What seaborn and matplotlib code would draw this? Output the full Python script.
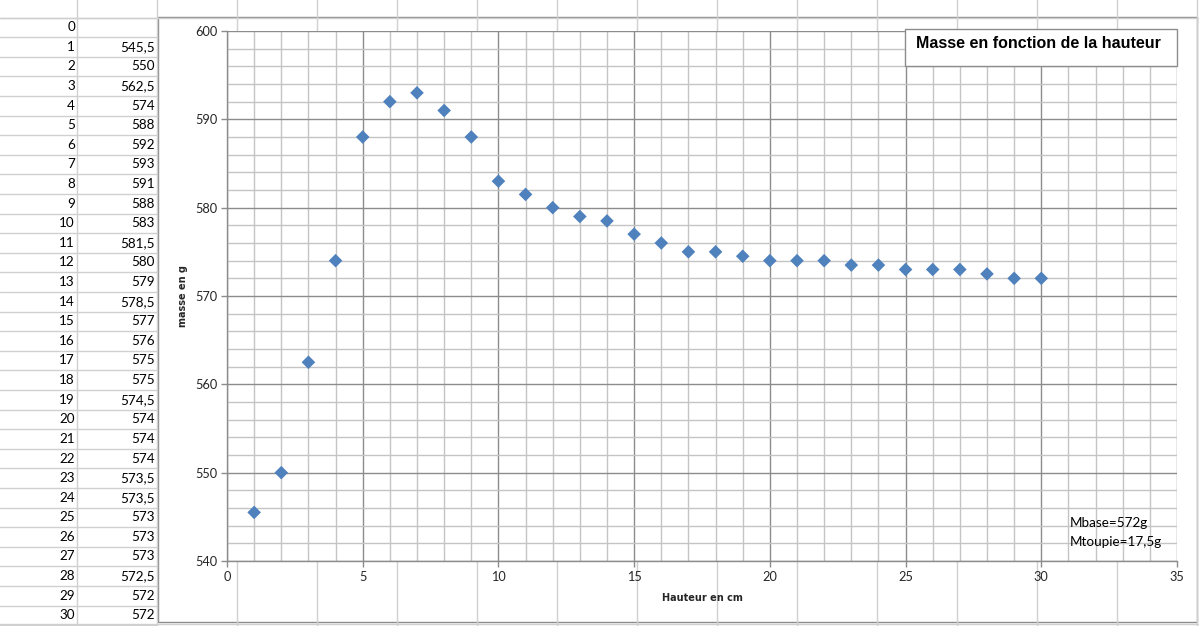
import matplotlib
matplotlib.use("Agg")
import matplotlib.pyplot as plt
from matplotlib.patches import Rectangle
import pandas as pd
import seaborn as sns

# data read from the sheet / chart
hauteur = list(range(1, 31))
masse = [545.5, 550, 562.5, 574, 588, 592, 593, 591, 588, 583,
         581.5, 580, 579, 578.5, 577, 576, 575, 575, 574.5, 574,
         574, 574, 573.5, 573.5, 573, 573, 573, 572.5, 572, 572]
x_ticks = [0, 5, 10, 15, 20, 25, 30, 35]
y_ticks = [540, 550, 560, 570, 580, 590, 600]
titre = "Masse en fonction de la hauteur"
notes = ["Mbase=572g", "Mtoupie=17,5g"]

W, H = 1199, 626
cell_font = "Lato"
grid_cell = "#D0D0D0"


def fx(px):
    return px / W


def fy(py):
    return 1 - py / H


def fmt(v):
    s = f"{v:g}"
    return s.replace(".", ",")


sns.set_theme(style="white")
plt.rcParams["font.family"] = [cell_font, "DejaVu Sans"]

fig = plt.figure(figsize=(W / 100, H / 100), dpi=100)

# spreadsheet background
bg = fig.add_axes([0, 0, 1, 1])
bg.set_xlim(0, W)
bg.set_ylim(H, 0)
bg.axis("off")

row0 = 17.5
row_h = 19.6
for k in range(32):
    y = row0 + k * row_h
    bg.plot([0, 157], [y, y], color=grid_cell, lw=1)
bg.plot([0, W], [row0, row0], color=grid_cell, lw=1)
bg.plot([0, W], [623.5, 623.5], color=grid_cell, lw=1)
for xc in range(77, W, 80):
    bg.plot([xc, xc], [0, H], color=grid_cell, lw=1)

labels_a = [0] + hauteur
for k, a in enumerate(labels_a):
    yc = row0 + row_h * (k + 0.5)
    bg.text(75, yc, str(a), ha="right", va="center", fontsize=9.7, color="black")
    if k > 0:
        bg.text(155, yc, fmt(masse[k - 1]), ha="right", va="center",
                fontsize=9.7, color="black")

# chart frame
bg.add_patch(Rectangle((158, 17), 1197 - 158, 622 - 17, facecolor="white",
                       edgecolor="#8C8C8C", lw=1))

# plot area
left, right, top, bottom = 227, 1177, 31, 561
ax = fig.add_axes([fx(left), fy(bottom), fx(right - left), (bottom - top) / H])
df = pd.DataFrame({"hauteur": hauteur, "masse": masse})
sns.scatterplot(data=df, x="hauteur", y="masse", ax=ax, marker="D", s=48,
                color="#4F81BD", edgecolor="none", zorder=3, legend=False)

ax.set_xlim(0, 35)
ax.set_ylim(540, 600)
ax.set_xticks(x_ticks)
ax.set_yticks(y_ticks)
ax.set_xticks(range(0, 36), minor=True)
ax.set_yticks(range(540, 601, 2), minor=True)
ax.grid(which="minor", color="#C4C4C4", lw=1)
ax.grid(which="major", color="#8C8C8C", lw=1)
ax.set_axisbelow(True)
ax.tick_params(which="major", direction="out", length=4, width=1,
               color="#8C8C8C", labelsize=9.2, pad=3, left=True, bottom=True)
ax.tick_params(which="minor", length=0)
for side in ["top", "right"]:
    ax.spines[side].set_visible(False)
for side in ["left", "bottom"]:
    ax.spines[side].set_color("#8C8C8C")
    ax.spines[side].set_linewidth(1)

ax.set_xlabel("Hauteur en cm", family="DejaVu Sans", fontweight="bold",
              fontsize=7)
ax.set_ylabel("masse en g", family="DejaVu Sans", fontweight="bold",
              fontsize=7)
ax.xaxis.set_label_coords(0.5, (bottom - 593) / (bottom - top))
ax.yaxis.set_label_coords((188 - left) / (right - left), 0.5)

# title box
ax.add_patch(Rectangle((fx(905), fy(66)), fx(1177 - 905), (66 - 29) / H,
                       transform=fig.transFigure, facecolor="white",
                       edgecolor="#8C8C8C", lw=1, zorder=5, clip_on=False))
ax.text(fx(916), fy(44), titre, transform=fig.transFigure, ha="left",
        va="center", family="Liberation Sans", fontweight="bold",
        fontsize=11.5, color="black", zorder=6)

# notes
for i, n in enumerate(notes):
    ax.text(fx(1070), fy(523 + 18.5 * i), n, transform=fig.transFigure,
            ha="left", va="center", fontsize=9.7, color="black", zorder=6)

fig.savefig("out.png", dpi=100)
